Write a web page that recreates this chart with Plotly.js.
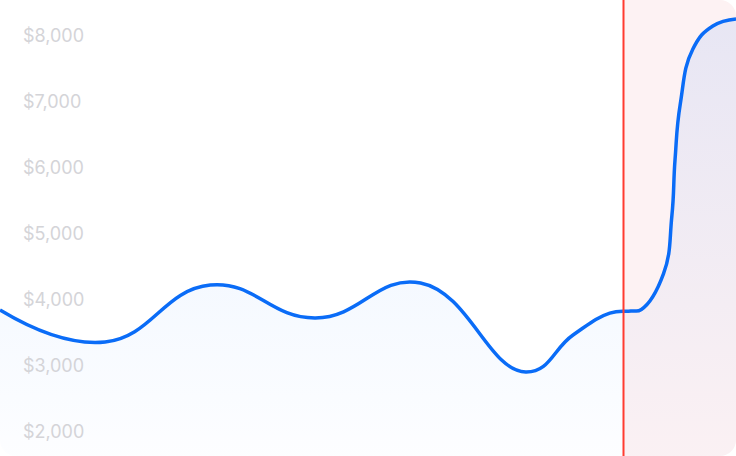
<!DOCTYPE html>
<html>
<head>
<meta charset="utf-8">
<script src="https://cdn.plot.ly/plotly-3.0.1.min.js"></script>
<style>
	html, body { margin: 0; padding: 0; background: #ffffff; }
	#balance-graph { width: 736px; height: 456px; border-radius: 16px; overflow: hidden; }
</style>
</head>
<body>
<div id="balance-graph"></div>
<script>
'use strict';

// period index (one step per week) and balance in dollars
var periods = [0, 1, 2, 3, 4, 5, 5.45, 5.8, 6, 6.1, 6.31, 6.39, 6.42, 6.47, 6.59, 6.78, 7];
var balance = [3848, 3364, 4227, 3727, 4258, 2909, 3470, 3800, 3833, 3856, 4394, 5273, 6121, 6970, 7803, 8151, 8258];

// where "today" sits, everything after it is projected
var todayPeriod = 5.93;
var lastPeriod = 7;

var tickValues = [2000, 3000, 4000, 5000, 6000, 7000, 8000];
var tickLabels = ['$2,000', '$3,000', '$4,000', '$5,000', '$6,000', '$7,000', '$8,000'];

const createBalanceGraph = function () {
	if (!document.getElementById('balance-graph')) return;

	var layout = {
		margin: { l: 0, r: 0, b: 0, t: 0, pad: 0 },
		width: 736,
		height: 456,
		showlegend: false,
		paper_bgcolor: '#ffffff',
		plot_bgcolor: '#ffffff',
		font: { family: 'Inter, "Open Sans", sans-serif' },
		xaxis: {
			range: [0, lastPeriod],
			showgrid: false,
			zeroline: false,
			showline: false,
			ticks: '',
			showticklabels: false,
			fixedrange: true,
		},
		yaxis: {
			range: [1636, 8545],
			showgrid: false,
			zeroline: false,
			showline: false,
			ticks: '',
			tickvals: tickValues,
			ticktext: tickLabels,
			ticklabelposition: 'inside',
			ticklabelstandoff: 20,
			tickfont: { size: 18, color: '#d4d4d8' },
			fixedrange: true,
		},
		// pink projection zone and the red "today" marker
		shapes: [
			{
				type: 'rect',
				xref: 'x',
				yref: 'paper',
				x0: todayPeriod,
				x1: lastPeriod,
				y0: 0,
				y1: 1,
				fillcolor: '#fdf2f3',
				line: { width: 0 },
				layer: 'below',
			},
			{
				type: 'line',
				xref: 'x',
				yref: 'paper',
				x0: todayPeriod,
				x1: todayPeriod,
				y0: 0,
				y1: 1,
				line: { color: '#ff3b30', width: 2 },
				layer: 'above',
			},
		],
	};

	var traces = [
		{
			x: periods,
			y: balance,
			type: 'scatter',
			mode: 'lines',
			fill: 'tozeroy',
			fillgradient: {
				type: 'vertical',
				start: 1636,
				stop: 8258,
				colorscale: [
					[0, 'rgba(13,110,253,0.01)'],
					[1, 'rgba(13,110,253,0.09)'],
				],
			},
			line: { color: '#0a6cf7', width: 3.5, shape: 'spline', smoothing: 1.3 },
			hoverinfo: 'none',
		},
	];

	Plotly.newPlot('balance-graph', traces, layout, { displayModeBar: false, staticPlot: true });
};

document.addEventListener('DOMContentLoaded', createBalanceGraph);
</script>
</body>
</html>
